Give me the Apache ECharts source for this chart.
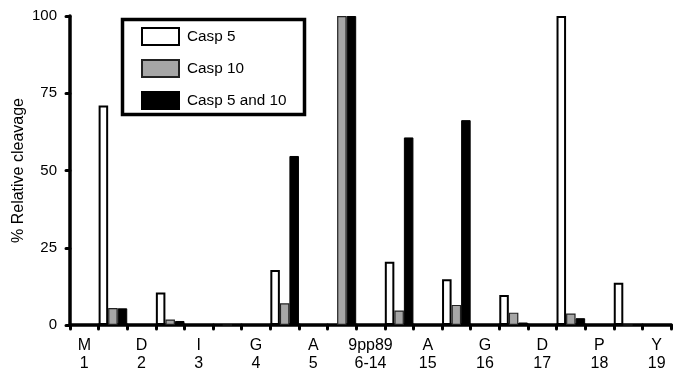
<!DOCTYPE html>
<html>
<head>
<meta charset="utf-8">
<script src="https://cdn.jsdelivr.net/npm/echarts@6/dist/echarts.min.js"></script>
<style>
html,body{margin:0;padding:0;background:#fff;}
#chart{width:673px;height:370px;}
</style>
</head>
<body>
<div id="chart"></div>
<script>
// Residue labels (every other category) and positions
var residues = ['M','D','I','G','A','9pp89','A','G','D','P','Y'];
var positions = ['1','2','3','4','5','6-14','15','16','17','18','19'];
// Cleavage values for the 10 sites between residues
var casp5 = [71, 10.5, 0, 17.8, 0, 20.5, 14.8, 9.7, 100, 13.7];
var casp10 = [5.5, 1.8, 0, 7, 100, 4.7, 6.5, 4, 3.7, 0];
var casp5and10 = [5.4, 1.3, 0, 54.7, 100, 60.7, 66.3, 0.8, 2.2, 0];
var yTicks = [0, 25, 50, 75, 100];

var categories = [];
for (var i = 0; i < residues.length; i++) {
  categories.push(residues[i] + '\n' + positions[i]);
  if (i < residues.length - 1) categories.push('');
}
function spread(arr) {
  var out = [];
  for (var i = 0; i < categories.length; i++) out.push('-');
  for (var j = 0; j < arr.length; j++) out[2 * j + 1] = arr[j];
  return out;
}

var chart = echarts.init(document.getElementById('chart'), null, {renderer: 'canvas'});
var font = 'Liberation Sans, Arial, sans-serif';
chart.setOption({
  animation: false,
  textStyle: {fontFamily: font},
  grid: {left: 70, right: 2, top: 16, bottom: 45, containLabel: false, outerBoundsMode: 'none'},
  legend: {
    orient: 'vertical', left: 136, top: 22,
    itemWidth: 37, itemHeight: 17, itemGap: 13,
    icon: 'rect',
    textStyle: {fontSize: 15.3, color: '#000', fontFamily: font, padding: [0, 0, 0, 3]},
    data: ['Casp 5', 'Casp 10', 'Casp 5 and 10']
  },
  graphic: [{
    type: 'rect', left: 120, top: 17,
    shape: {width: 182, height: 95},
    style: {fill: 'none', stroke: '#000', lineWidth: 3.5},
    z: 100
  }],
  xAxis: {
    type: 'category',
    data: categories,
    axisLine: {lineStyle: {color: '#000', width: 3.5}},
    axisTick: {show: true, interval: 0, length: 4, lineStyle: {color: '#000', width: 3, cap: 'round'}},
    axisLabel: {interval: 0, fontSize: 16, lineHeight: 18, color: '#000', margin: 12, fontFamily: font},
    splitLine: {show: false}
  },
  yAxis: {
    type: 'value', min: 0, max: 100, interval: 25,
    name: '% Relative cleavage', nameLocation: 'middle', nameRotate: 90, nameGap: 43,
    nameMoveOverlap: false,
    nameTextStyle: {fontSize: 16, color: '#000', fontFamily: font},
    axisLine: {show: true, lineStyle: {color: '#000', width: 3.5}},
    axisTick: {show: true, length: 4, lineStyle: {color: '#000', width: 3, cap: 'round'}},
    axisLabel: {fontSize: 15, color: '#000', margin: 13, fontFamily: font},
    splitLine: {show: false}
  },
  series: [
    {name: 'Casp 5', type: 'bar', data: spread(casp5), barGap: '0%', barCategoryGap: '0%',
     itemStyle: {color: '#fff', borderColor: '#000', borderWidth: 2}},
    {name: 'Casp 10', type: 'bar', data: spread(casp10), barGap: '0%', barCategoryGap: '0%',
     itemStyle: {color: '#a6a6a6', borderColor: '#222', borderWidth: 1.2}},
    {name: 'Casp 5 and 10', type: 'bar', data: spread(casp5and10), barGap: '0%', barCategoryGap: '0%',
     itemStyle: {color: '#000', borderColor: '#000', borderWidth: 1}}
  ]
});
</script>
</body>
</html>
